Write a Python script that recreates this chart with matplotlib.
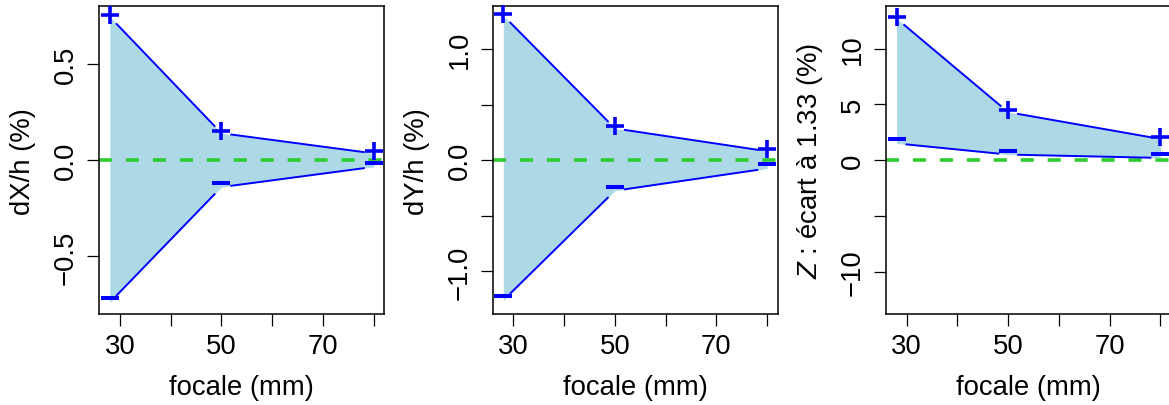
import numpy as np
import matplotlib
matplotlib.use("Agg")
import matplotlib.pyplot as plt
from matplotlib import transforms

plt.rcParams['font.family'] = ['Liberation Sans', 'DejaVu Sans']
plt.rcParams['mathtext.fontset'] = 'custom'
plt.rcParams['mathtext.rm'] = 'Liberation Sans'
plt.rcParams['mathtext.it'] = 'Liberation Sans:italic'
plt.rcParams['lines.scale_dashes'] = False

# focales testées (mm)
focale = [28, 50, 80]

# bornes haute / basse de chaque écart
dx_haut = [0.745, 0.14, 0.035]
dx_bas = [-0.74, -0.14, -0.035]
dy_haut = [1.30, 0.285, 0.08]
dy_bas = [-1.26, -0.275, -0.075]
z_haut = [12.7, 4.3, 1.9]
z_bas = [1.5, 0.5, 0.2]

ylabels = ['dX/h (%)', 'dY/h (%)', r'$\mathit{Z}$ : écart à 1.33 (%)']
yticks = [[-0.5, 0.0, 0.5], [-1.0, -0.5, 0.0, 0.5, 1.0], [-10, -5, 0, 5, 10]]
ytick_labels = [['−0.5', '0.0', '0.5'], ['−1.0', '', '0.0', '', '1.0'],
                ['−10', '', '0', '5', '10']]
ylims = [0.80, 1.383, 13.8]
xticks = [30, 40, 50, 60, 70, 80]
xtick_labels = ['30', '', '50', '', '70', '']

BLEU = '#0000FF'
FOND = '#ADD8E6'
VERT = '#2ECC2E'
FS = 19.8

fig = plt.figure(figsize=(11.69, 4.06), dpi=100)
lefts = [0.0849, 0.4215, 0.7579]


def trace_b(ax, x, y, r=10):
    """Segments façon type='b' de R : coupés autour des points."""
    pts = ax.transData.transform(np.column_stack([x, y]))
    inv = ax.transData.inverted()
    for p0, p1 in zip(pts[:-1], pts[1:]):
        u = (p1 - p0) / np.hypot(*(p1 - p0))
        a = inv.transform(p0 + u * r)
        b = inv.transform(p1 - u * r)
        ax.plot([a[0], b[0]], [a[1], b[1]], color=BLEU, lw=1.4, zorder=3)


series = [(dx_haut, dx_bas), (dy_haut, dy_bas), (z_haut, z_bas)]
for i, (haut, bas) in enumerate(series):
    ax = fig.add_axes([lefts[i], 0.2241, 0.2438, 0.758])
    ax.set_xlim(25.92, 82.08)
    ax.set_ylim(-ylims[i], ylims[i])

    ax.fill_between(focale, bas, haut, color=FOND, lw=0, zorder=1)
    ax.axhline(0, color=VERT, lw=2.6, dashes=(9.4, 10), zorder=2)
    trace_b(ax, focale, haut)
    trace_b(ax, focale, bas)

    up = transforms.offset_copy(ax.transData, fig=fig, x=0, y=2, units='dots')
    up2 = transforms.offset_copy(ax.transData, fig=fig, x=0, y=4, units='dots')
    ax.plot(focale, haut, ls='none', marker='+', ms=12.7, mew=2.6,
            color=BLEU, transform=up, zorder=4, clip_on=False)
    ax.plot(focale, bas, ls='none', marker='_', ms=12.7, mew=2.9,
            color=BLEU, transform=up2, zorder=4, clip_on=False)

    ax.set_xticks(xticks)
    ax.set_xticklabels(xtick_labels)
    ax.set_yticks(yticks[i])
    ax.set_yticklabels(ytick_labels[i], rotation=90, va='center')
    ax.tick_params(length=8.6, width=0.9, labelsize=FS, direction='out')
    ax.tick_params(axis='x', pad=5)
    ax.tick_params(axis='y', pad=6)
    for s in ax.spines.values():
        s.set_linewidth(1.1)

    ax.set_xlabel('focale (mm)', fontsize=FS, va='center')
    ax.xaxis.set_label_coords(0.5, -0.237)
    ax.set_ylabel(ylabels[i], fontsize=FS, va='center')
    ax.yaxis.set_label_coords(-0.266, 0.5)

fig.savefig('out.png', dpi=100)
